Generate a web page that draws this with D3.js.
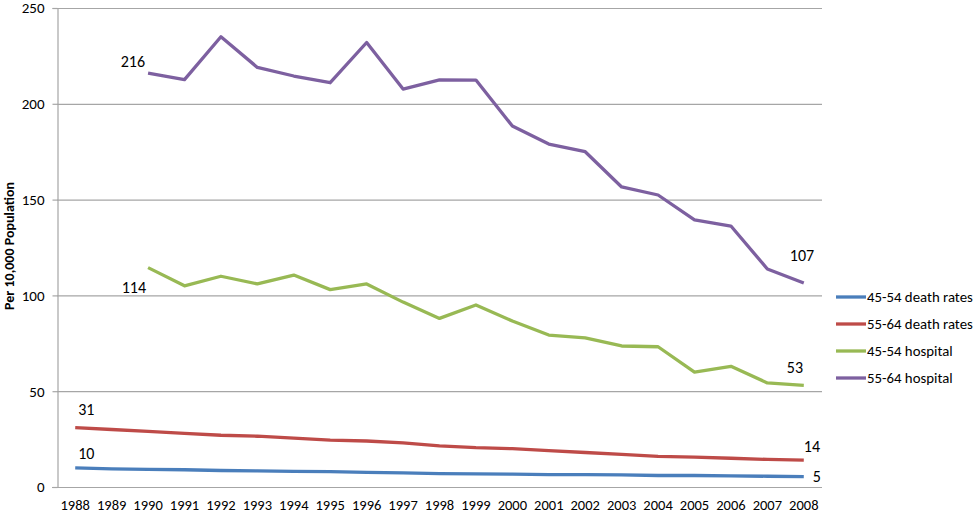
<!DOCTYPE html>
<html><head><meta charset="utf-8">
<script src="https://cdn.jsdelivr.net/npm/d3@7"></script>
<style>body{margin:0;background:#fff}svg{display:block}text{font-family:Calibri,Carlito,Lato,"Open Sans",sans-serif;fill:#000}</style>
</head><body><svg id="c" width="976" height="513"></svg>
<script>
const years = d3.range(1988, 2009).map(String);
const yTicks = [0, 50, 100, 150, 200, 250];
const seriesNames = ["45-54 death rates", "55-64 death rates", "45-54 hospital", "55-64 hospital"];
const seriesColors = ["#4a7ebb", "#be4b48", "#98b954", "#7d60a0"];
const death4554 = [10, 9.5, 9.2, 9, 8.6, 8.4, 8.2, 8, 7.6, 7.4, 7, 6.9, 6.7, 6.5, 6.5, 6.3, 6, 6, 5.8, 5.6, 5.4];
const death5564 = [31, 30, 29, 28, 27, 26.5, 25.5, 24.5, 24, 23, 21.5, 20.5, 20, 19, 18, 17, 16, 15.6, 15, 14.4, 14];
const hosp4554 = [null, null, 114.5, 105, 110, 106, 110.6, 103, 106, 96.5, 88, 95, 86.6, 79.3, 77.8, 73.6, 73.2, 60, 63, 54.3, 53];
const hosp5564 = [null, null, 216, 212.6, 235, 219, 214.5, 211, 232, 207.7, 212.5, 212.4, 188.4, 179, 175, 156.6, 152.4, 139.4, 136.2, 113.8, 106.5];
const pointLabels = [
  {s: 3, i: 2, t: "216"}, {s: 3, i: 20, t: "107"},
  {s: 2, i: 2, t: "114"}, {s: 2, i: 20, t: "53"},
  {s: 1, i: 0, t: "31"}, {s: 1, i: 20, t: "14"},
  {s: 0, i: 0, t: "10"}, {s: 0, i: 20, t: "5"}
];
const allSeries = [death4554, death5564, hosp4554, hosp5564];

const svg = d3.select("#c");
const L = 57, R = 822, T = 8, B = 487;
const x = d3.scaleBand().domain(years).range([L, R]);
const y = d3.scaleLinear().domain([0, 250]).range([B, T]);
const cx = d => x(d) + x.bandwidth() / 2;

// gridlines
svg.append("g").selectAll("line").data(yTicks.filter(v => v > 0)).join("line")
  .attr("x1", L).attr("x2", R).attr("y1", d => y(d) + 0.5).attr("y2", d => y(d) + 0.5)
  .attr("stroke", "#a6a6a6").attr("stroke-width", 1.2);

// y axis
const ya = svg.append("g").attr("transform", `translate(${L + 0.5},0)`)
  .call(d3.axisLeft(y).tickValues(yTicks).tickSize(5).tickPadding(8));
ya.select(".domain").attr("stroke", "#a6a6a6").attr("stroke-width", 1.2);
ya.selectAll(".tick line").attr("stroke", "#a6a6a6").attr("stroke-width", 1.2);
ya.selectAll(".tick text").style("font-size", "15px").attr("fill", "#000");

// x axis
const xa = svg.append("g").attr("transform", `translate(0,${B + 0.5})`)
  .call(d3.axisBottom(x).tickSize(0).tickPadding(12));
xa.select(".domain").attr("stroke", "#a6a6a6").attr("stroke-width", 1.2).attr("d", `M${L - 5},0H${R}`);
xa.selectAll(".tick text").style("font-size", "14.5px").attr("fill", "#000");

// y title
svg.append("text").attr("transform", "translate(14,246) rotate(-90)")
  .attr("text-anchor", "middle").style("font-size", "14px").style("font-weight", "bold")
  .text("Per 10,000 Population");

// lines
const line = d3.line().defined(d => d.v != null).x(d => cx(d.yr)).y(d => y(d.v));
allSeries.forEach((s, k) => {
  svg.append("path").datum(s.map((v, i) => ({yr: years[i], v})))
    .attr("d", line).attr("fill", "none").attr("stroke", seriesColors[k])
    .attr("stroke-width", 3.3).attr("stroke-linejoin", "round").attr("stroke-linecap", "butt");
});

// point labels
const lblOff = {
  "216": [-3, -6, "end"], "107": [-14, -22, "start"],
  "114": [-2, 25, "end"], "53": [-17, -12, "start"],
  "31": [3, -13, "start"], "14": [0, -8, "start"],
  "10": [3, -9, "start"], "5": [9, 5, "start"]
};
pointLabels.forEach(p => {
  const o = lblOff[p.t];
  svg.append("text").attr("x", cx(years[p.i]) + o[0]).attr("y", y(allSeries[p.s][p.i]) + o[1])
    .attr("text-anchor", o[2]).style("font-size", "16px").text(p.t);
});

// legend
const lg = svg.append("g");
seriesNames.forEach((n, k) => {
  const yy = 297 + k * 27;
  lg.append("line").attr("x1", 836).attr("x2", 866).attr("y1", yy).attr("y2", yy)
    .attr("stroke", seriesColors[k]).attr("stroke-width", 3.3);
  lg.append("text").attr("x", 867).attr("y", yy + 5).style("font-size", "14.8px").text(n);
});
</script></body></html>
